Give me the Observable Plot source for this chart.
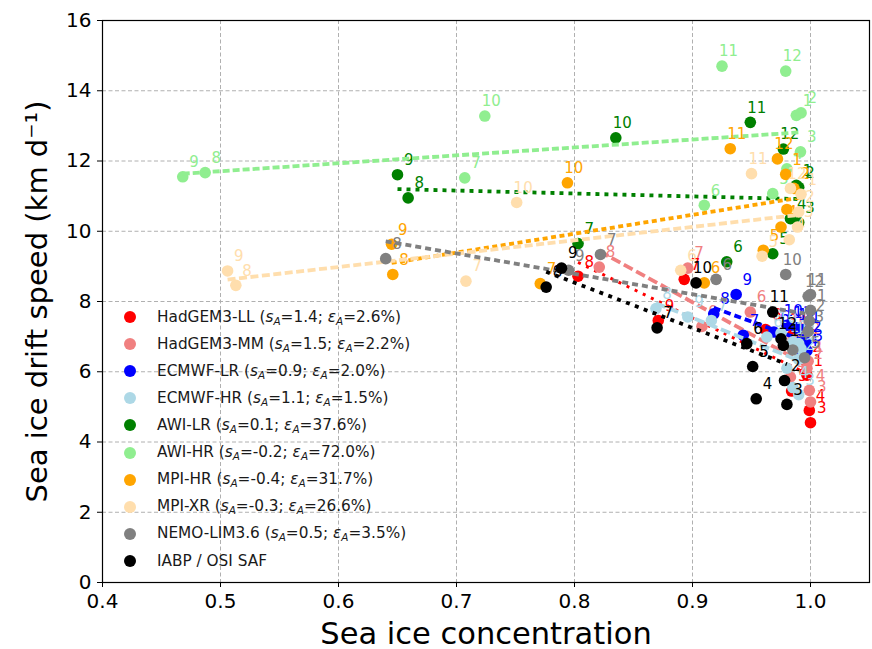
<!DOCTYPE html>
<html><head><meta charset="utf-8">
<script src="https://cdn.jsdelivr.net/npm/d3@7"></script>
<script src="https://cdn.jsdelivr.net/npm/@observablehq/plot@0.6"></script>
<style>
body{margin:0;background:#fff;font-family:"DejaVu Sans",sans-serif}
#wrap{position:relative;width:872px;height:649px;overflow:hidden}
#legend{position:absolute;left:0;top:0;font-size:15.3px;color:#1a1a1a}
.row{position:absolute;left:124px;height:20px;display:flex;align-items:center;white-space:nowrap}
.sw{width:12px;height:12px;border-radius:50%;margin-right:21px;flex:none}
.row sub{font-size:10.5px;vertical-align:-3px;font-style:italic}
</style></head><body><div id="wrap"><div id="chart"></div><div id="legend"></div></div>
<script>
const months = [1,2,3,4,5,6,7,8,9,10,11,12];
const seriesNames = ["HadGEM3-LL","HadGEM3-MM","ECMWF-LR","ECMWF-HR","AWI-LR","AWI-HR","MPI-HR","MPI-XR","NEMO-LIM3.6","IABP / OSI SAF"];
const sA   = ["1.4","1.5","0.9","1.1","0.1","-0.2","-0.4","-0.3","0.5",null];
const epsA = ["2.6","2.2","2.0","1.5","37.6","72.0","31.7","26.6","3.5",null];

const concHadLL  = [0.997,0.996,1.000,0.999,0.984,0.962,0.893,0.803,0.871,0.983,0.985,0.993];
const speedHadLL = [5.90,6.30,4.55,4.90,5.45,7.20,8.63,8.72,7.46,6.75,7.05,6.60];
const concHadMM  = [0.998,0.997,1.000,0.999,0.983,0.949,0.896,0.821,0.908,0.985,0.990,0.995];
const speedHadMM = [6.30,6.10,5.14,5.47,5.85,7.70,8.95,8.98,7.29,6.90,7.00,6.80];
const concEcLR   = [0.995,0.996,0.997,0.993,0.985,0.969,0.943,0.918,0.937,0.980,0.988,0.992];
const speedEcLR  = [7.10,6.85,6.60,6.45,6.75,7.13,7.04,7.65,8.20,7.32,7.25,7.20];
const concEcHR   = [0.992,0.990,0.990,0.985,0.980,0.963,0.916,0.869,0.896,0.975,0.985,0.990];
const speedEcHR  = [6.65,6.35,5.35,5.55,6.10,6.99,7.46,7.80,7.56,7.10,6.85,6.80];
const concAwiLR  = [0.988,0.990,0.990,0.983,0.968,0.929,0.803,0.659,0.650,0.835,0.949,0.977];
const speedAwiLR = [11.31,11.25,10.25,10.36,9.36,9.13,9.65,10.95,11.61,12.66,13.10,12.34];
const concAwiHR  = [0.988,0.992,0.9915,0.980,0.968,0.910,0.707,0.487,0.468,0.724,0.925,0.979];
const speedAwiHR = [13.30,13.37,12.26,11.78,11.07,10.74,11.52,11.67,11.55,13.28,14.70,14.56];
const concMpiHR  = [0.979,0.986,0.980,0.975,0.960,0.910,0.771,0.646,0.645,0.794,0.932,0.972];
const speedMpiHR = [11.62,11.22,10.62,10.12,9.46,8.53,8.51,8.77,9.63,11.38,12.35,12.06];
const concMpiXR  = [0.992,0.990,0.989,0.982,0.959,0.890,0.708,0.513,0.506,0.751,0.950,0.983];
const speedMpiXR = [11.05,10.55,10.12,9.76,9.29,8.89,8.58,8.46,8.87,10.82,11.64,11.22];
const concNemo   = [1.000,0.999,0.998,0.985,0.995,0.920,0.822,0.640,0.795,0.979,1.000,0.998];
const speedNemo  = [7.75,7.45,7.15,6.62,6.40,8.63,9.34,9.22,8.89,8.77,8.20,8.15];
const concObs    = [0.977,0.978,0.980,0.954,0.951,0.946,0.870,0.776,0.789,0.903,0.968,0.975];
const speedObs   = [6.75,5.75,5.07,5.23,6.15,6.80,7.25,8.41,8.95,8.53,7.70,6.94];

const xTicks = [0.4,0.5,0.6,0.7,0.8,0.9,1.0];
const yTicks = [0,2,4,6,8,10,12,14,16];

// styles
const seriesColors = ["#ff0000","#f08080","#0000ff","#add8e6","#008000","#90ee90","#ffa500","#ffdead","#808080","#000000"];
const seriesDash = ["3,6","10,4","7,4","10,4","4,5","7,3","5,3.5","8,3.5","6,4","4,5.5"];
const seriesWidth = [3,3.8,3.8,3.8,3.8,3.8,3.8,3.8,3.8,3.8];

const concs = [concHadLL,concHadMM,concEcLR,concEcHR,concAwiLR,concAwiHR,concMpiHR,concMpiXR,concNemo,concObs];
const speeds = [speedHadLL,speedHadMM,speedEcLR,speedEcHR,speedAwiLR,speedAwiHR,speedMpiHR,speedMpiXR,speedNemo,speedObs];

const rows = seriesNames.flatMap((s,i)=>months.map((m,j)=>({series:s, month:m, conc:concs[i][j], speed:speeds[i][j]})));

const seriesMarks = seriesNames.flatMap((s,i)=>{
  const d = rows.filter(r=>r.series===s);
  return [
    Plot.dot(d,{x:"conc",y:"speed",r:5.8,fill:seriesColors[i],stroke:"none"}),
    Plot.text(d,{x:"conc",y:"speed",text:d=>String(d.month),fill:seriesColors[i],textAnchor:"end",dx:16,dy:-14.5,fontSize:15}),
    Plot.linearRegressionY(d,{x:"conc",y:"speed",stroke:seriesColors[i],strokeWidth:seriesWidth[i],strokeDasharray:seriesDash[i],strokeLinecap:"butt",ci:0})
  ];
});

const chart = Plot.plot({
  width:872, height:649,
  marginLeft:102, marginRight:3, marginTop:20, marginBottom:67,
  x:{domain:[0.4,1.05]},
  y:{domain:[0,16]},
  style:{fontFamily:"DejaVu Sans", background:"white", color:"black", overflow:"visible"},
  marks:[
    Plot.gridX(xTicks,{stroke:"#b0b0b0",strokeOpacity:1,strokeDasharray:"4,2.5",strokeWidth:1}),
    Plot.gridY(yTicks,{stroke:"#b0b0b0",strokeOpacity:1,strokeDasharray:"4,2.5",strokeWidth:1}),
    ...seriesMarks,
    Plot.frame({stroke:"black",strokeWidth:1.2}),
    Plot.axisX(xTicks,{tickFormat:d3.format(".1f"),fontSize:20,tickSize:5,tickPadding:6,label:null}),
    Plot.axisY(yTicks,{tickFormat:d3.format("d"),fontSize:20,tickSize:5,tickPadding:6,label:null}),
    Plot.text(["Sea ice concentration"],{text:d=>d,frameAnchor:"bottom",textAnchor:"middle",dy:61,fontSize:30.5}),
    Plot.text(["Sea ice drift speed (km d⁻¹)"],{text:d=>d,frameAnchor:"left",textAnchor:"middle",dx:-65,rotate:-90,fontSize:29})
  ]
});
document.getElementById("chart").appendChild(chart);

const legend = document.getElementById("legend");
seriesNames.forEach((s,i)=>{
  const row = document.createElement("div");
  row.className = "row";
  row.style.top = (317 + 27.1*i - 10) + "px";
  let label = s;
  if (sA[i] !== null) label += ` (<i>s</i><sub>A</sub>=${sA[i]}; <i>ε</i><sub>A</sub>=${epsA[i]}%)`;
  row.innerHTML = `<span class="sw" style="background:${seriesColors[i]}"></span><span>${label}</span>`;
  legend.appendChild(row);
});
</script>
</body></html>
